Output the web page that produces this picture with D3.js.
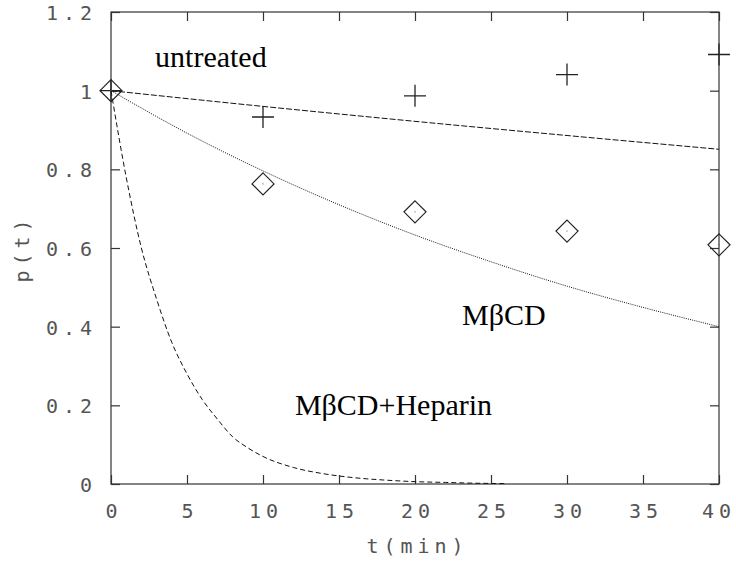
<!DOCTYPE html>
<html><head><meta charset="utf-8">
<script src="https://cdn.jsdelivr.net/npm/d3@7"></script>
<style>
html,body{margin:0;padding:0;background:#fff;}
svg{display:block;}
.tick-label{font-family:"DejaVu Sans Mono",monospace;font-size:20px;fill:#555;letter-spacing:5px;}
.serif{font-family:"Liberation Serif","Times New Roman",serif;font-size:30px;fill:#000;}
</style></head>
<body>
<svg id="chart" width="736" height="565"></svg>
<script>
// ---- data ----
const xTicks = [0, 5, 10, 15, 20, 25, 30, 35, 40];
const yTicks = [0, 0.2, 0.4, 0.6, 0.8, 1, 1.2];
const yTickLabels = ["0", "0.2", "0.4", "0.6", "0.8", "1", "1.2"];

const untreatedT = [0, 10, 20, 30, 40];
const untreatedP = [1.0, 0.933, 0.987, 1.041, 1.092];
const mbcdT = [0, 10, 20, 30, 40];
const mbcdP = [1.0, 0.763, 0.692, 0.643, 0.608];

const untreatedFitT = [0, 10, 20, 30, 40];
const untreatedFitP = [1.0, 0.960, 0.922, 0.886, 0.851];
const mbcdFitT = [0, 5, 10, 15, 20, 25, 30, 35, 40];
const mbcdFitP = [1.0, 0.892, 0.796, 0.710, 0.633, 0.565, 0.503, 0.449, 0.400];
const heparinFitT = [0, 1, 2, 3, 4, 5, 6, 7, 8, 9, 10, 12, 14, 16, 18, 20, 22, 24, 26];
const heparinFitP = [1.0, 0.78, 0.60, 0.47, 0.36, 0.28, 0.215, 0.165, 0.12, 0.092, 0.07, 0.042, 0.026, 0.016, 0.010, 0.006, 0.004, 0.002, 0.001];

const annotations = [
  {text: "untreated", t: 2.9, p: 1.06},
  {text: "MβCD", t: 23.1, p: 0.404},
  {text: "MβCD+Heparin", t: 12.1, p: 0.175}
];

// ---- chart ----
const svg = d3.select("#chart");
const x = d3.scaleLinear().domain([0, 40]).range([111, 719]);
const y = d3.scaleLinear().domain([0, 1.2]).range([484, 12]);
const frame = "#333";
const tk = 9;
const ls = 5; // letter-spacing compensation

// frame
svg.append("rect").attr("x", x(0)).attr("y", y(1.2))
  .attr("width", x(40) - x(0)).attr("height", y(0) - y(1.2))
  .attr("fill", "none").attr("stroke", frame).attr("stroke-width", 1.2);

// axes with inner ticks
const axB = d3.axisBottom(x).tickValues(xTicks).tickSize(-tk).tickFormat(d3.format("d"));
const axT = d3.axisTop(x).tickValues(xTicks).tickSize(-tk).tickFormat("");
const axL = d3.axisLeft(y).tickValues(yTicks).tickSize(-tk).tickFormat((d, i) => yTickLabels[i]);
const axR = d3.axisRight(y).tickValues(yTicks).tickSize(-tk).tickFormat("");

function style(g) {
  g.select(".domain").remove();
  g.selectAll(".tick line").attr("stroke", frame).attr("stroke-width", 1.2);
  g.selectAll(".tick text").attr("class", "tick-label").attr("fill", null);
}
svg.append("g").attr("transform", `translate(0,${y(0)})`).call(axB).call(style)
  .selectAll(".tick text").attr("y", 34).attr("dy", null)
  .attr("dx", d => d === 40 ? -0.5 : ls / 2);
svg.append("g").attr("transform", `translate(0,${y(1.2)})`).call(axT).call(style);
svg.append("g").attr("transform", `translate(${x(0)},0)`).call(axL).call(style)
  .selectAll(".tick text").attr("x", -19 + ls).attr("dy", 7.5);
svg.append("g").attr("transform", `translate(${x(40)},0)`).call(axR).call(style);

// axis titles
svg.append("text").attr("class", "tick-label").attr("x", x(20) + ls / 2).attr("y", 553)
  .attr("text-anchor", "middle").text("t(min)");
svg.append("text").attr("class", "tick-label")
  .attr("transform", `translate(29,${251 - ls / 2}) rotate(-90)`)
  .attr("text-anchor", "middle").text("p(t)");

// fit curves
const line = d3.line().x(d => x(d[0])).y(d => y(d[1])).curve(d3.curveMonotoneX);
function addCurve(ts, ps, dash) {
  svg.append("path").datum(ts.map((t, i) => [t, ps[i]]))
    .attr("d", line).attr("fill", "none").attr("stroke", "#111")
    .attr("stroke-width", 1).attr("stroke-dasharray", dash);
}
addCurve(untreatedFitT, untreatedFitP, "6,2");
addCurve(mbcdFitT, mbcdFitP, "1,1.2");
addCurve(heparinFitT, heparinFitP, "5,3");

// markers
const pr = 11;
untreatedT.forEach((t, i) => {
  const cx = x(t), cy = y(untreatedP[i]);
  svg.append("path").attr("d", `M${cx - pr},${cy}H${cx + pr}M${cx},${cy - pr}V${cy + pr}`)
    .attr("stroke", "#222").attr("stroke-width", 1.3).attr("fill", "none");
});
const dr = 11;
mbcdT.forEach((t, i) => {
  const cx = x(t), cy = y(mbcdP[i]);
  svg.append("path").attr("d", `M${cx},${cy - dr}L${cx + dr},${cy}L${cx},${cy + dr}L${cx - dr},${cy}Z`)
    .attr("stroke", "#222").attr("stroke-width", 1.2).attr("fill", "none");
  svg.append("rect").attr("x", cx - 0.5).attr("y", cy - 0.5).attr("width", 1).attr("height", 1).attr("fill", "#555");
});

// annotations
annotations.forEach(a => {
  svg.append("text").attr("class", "serif").attr("x", x(a.t)).attr("y", y(a.p)).text(a.text);
});
</script>
</body></html>
